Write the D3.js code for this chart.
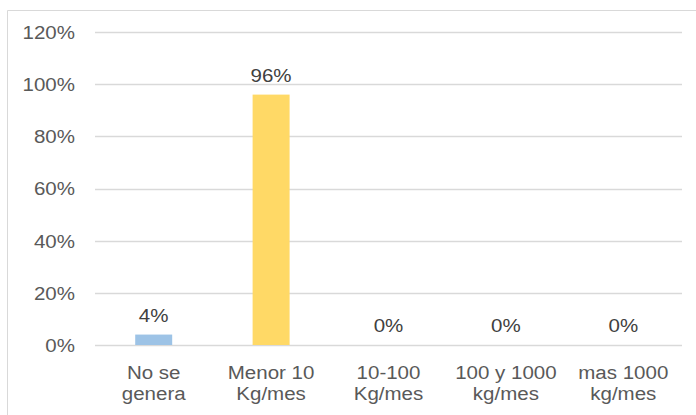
<!DOCTYPE html>
<html>
<head>
<meta charset="utf-8">
<script src="https://cdn.jsdelivr.net/npm/d3@7"></script>
<style>
  html, body { margin: 0; padding: 0; background: #fff; }
  svg { display: block; font-family: "Liberation Sans", Arial, sans-serif; }
</style>
</head>
<body>
<svg id="chart" width="696" height="415"></svg>
<script>
"use strict";

// categories (two-line labels) and their shares
const categories = ["No se genera", "Menor 10 Kg/mes", "10-100 Kg/mes", "100 y 1000 kg/mes", "mas 1000 kg/mes"];
const labelLines = [
  ["No se", "genera"],
  ["Menor 10", "Kg/mes"],
  ["10-100", "Kg/mes"],
  ["100 y 1000", "kg/mes"],
  ["mas 1000", "kg/mes"],
];
const values = [4, 96, 0, 0, 0];
const barColors = ["#9DC3E6", "#FFD966", "#9DC3E6", "#9DC3E6", "#9DC3E6"];
const yTicks = [0, 20, 40, 60, 80, 100, 120];

const W = 696, H = 415;
const plot = { left: 95, right: 682, top: 32, bottom: 345 };
const textColor = "#595959";
const gridColor = "#D9D9D9";
const fontSize = 19;

// text in the reference is slightly wider than the font's natural width
const stretch = (cx) => `translate(${cx},0) scale(1.08,1) translate(${-cx},0)`;

const svg = d3.select("#chart");

// chart frame (cropped on the right and bottom)
svg.append("path")
  .attr("d", `M7.5,${H} V10.5 H${W}`)
  .attr("fill", "none")
  .attr("stroke", gridColor)
  .attr("stroke-width", 1);

const x = d3.scaleBand()
  .domain(categories)
  .range([plot.left, plot.right])
  .paddingInner(0.685)
  .paddingOuter(0.685 / 2);

const y = d3.scaleLinear().domain([0, 120]).range([plot.bottom, plot.top]);

// gridlines
svg.append("g")
  .selectAll("line")
  .data(yTicks)
  .join("line")
  .attr("x1", plot.left)
  .attr("x2", plot.right)
  .attr("y1", (d) => Math.round(y(d)) + 0.5)
  .attr("y2", (d) => Math.round(y(d)) + 0.5)
  .attr("stroke", gridColor)
  .attr("stroke-width", 1.3);

// y tick labels
svg.append("g")
  .selectAll("text")
  .data(yTicks)
  .join("text")
  .attr("x", 75)
  .attr("y", (d) => y(d) + 7)
  .attr("text-anchor", "end")
  .attr("fill", textColor)
  .attr("font-size", fontSize)
  .attr("transform", stretch(75))
  .text((d) => d + "%");

// bars
svg.append("g")
  .selectAll("rect")
  .data(values)
  .join("rect")
  .attr("x", (d, i) => x(categories[i]))
  .attr("width", x.bandwidth())
  .attr("y", (d) => y(d))
  .attr("height", (d) => y(0) - y(d))
  .attr("fill", (d, i) => barColors[i]);

// data labels
svg.append("g")
  .selectAll("text")
  .data(values)
  .join("text")
  .each(function (d, i) {
    const cx = x(categories[i]) + x.bandwidth() / 2;
    d3.select(this)
      .attr("x", cx)
      .attr("y", y(d) - 13)
      .attr("transform", stretch(cx));
  })
  .attr("text-anchor", "middle")
  .attr("fill", "#404040")
  .attr("font-size", fontSize)
  .text((d) => d + "%");

// category labels
svg.append("g")
  .selectAll("text")
  .data(labelLines)
  .join("text")
  .attr("text-anchor", "middle")
  .attr("fill", textColor)
  .attr("font-size", fontSize)
  .each(function (lines, i) {
    const cx = x(categories[i]) + x.bandwidth() / 2;
    const t = d3.select(this).attr("transform", stretch(cx));
    lines.forEach((line, k) => {
      t.append("tspan")
        .attr("x", cx)
        .attr("y", 379 + k * 21.5)
        .text(line);
    });
  });
</script>
</body>
</html>
